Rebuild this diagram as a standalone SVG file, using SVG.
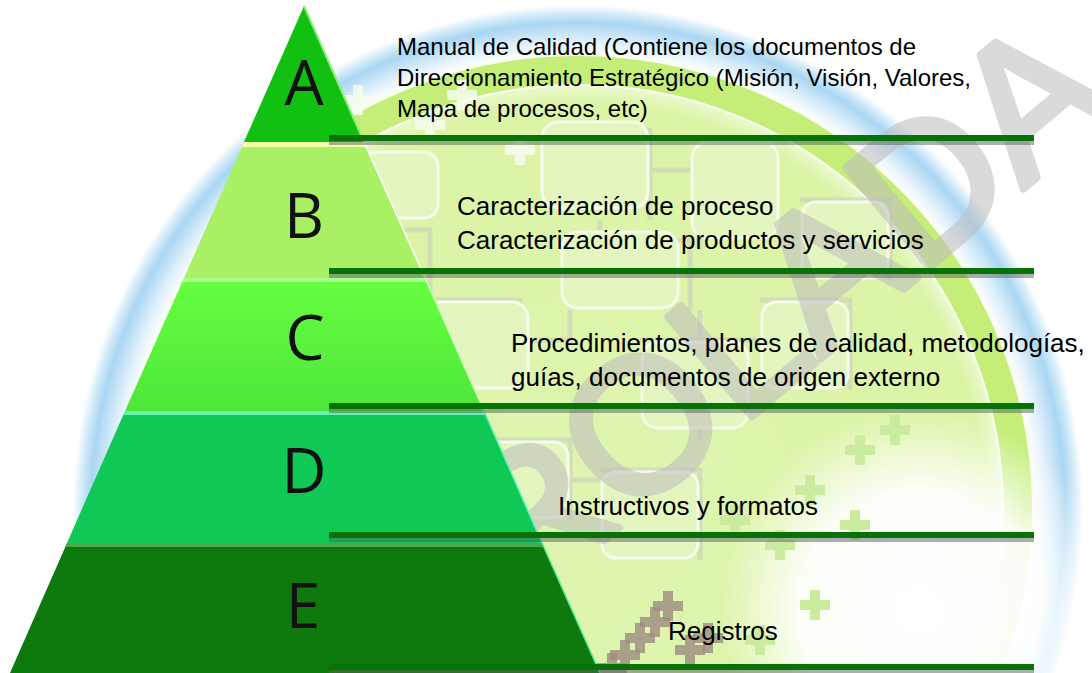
<svg xmlns="http://www.w3.org/2000/svg" width="1092" height="673" viewBox="0 0 1092 673">
<defs>
  <radialGradient id="halo" gradientUnits="userSpaceOnUse" cx="578" cy="510" r="505">
    <stop offset="0.90" stop-color="#ffffff"/>
    <stop offset="0.925" stop-color="#e4f2fb"/>
    <stop offset="0.965" stop-color="#a9d6f3"/>
    <stop offset="0.985" stop-color="#d6ecfa"/>
    <stop offset="1" stop-color="#ffffff"/>
  </radialGradient>
  <radialGradient id="inner" gradientUnits="userSpaceOnUse" cx="578" cy="510" r="424">
    <stop offset="0" stop-color="#dff5b0"/>
    <stop offset="0.96" stop-color="#dbf4a6"/>
    <stop offset="1" stop-color="#eaf9cd"/>
  </radialGradient>
  <radialGradient id="whitepatch" gradientUnits="userSpaceOnUse" cx="920" cy="610" r="200">
    <stop offset="0" stop-color="#ffffff" stop-opacity="1"/>
    <stop offset="0.6" stop-color="#ffffff" stop-opacity="0.92"/>
    <stop offset="1" stop-color="#ffffff" stop-opacity="0"/>
  </radialGradient>
  <linearGradient id="gC" x1="0" y1="278" x2="0" y2="411" gradientUnits="userSpaceOnUse">
    <stop offset="0" stop-color="#66ff40"/>
    <stop offset="1" stop-color="#4ee63a"/>
  </linearGradient>
  <path id="cross" d="M-15 -5 h10 v-10 h10 v10 h10 v10 h-10 v10 h-10 v-10 h-10z"/>
  <style>
    .lbl{font-family:"Liberation Sans",Arial,sans-serif;fill:#000;}
    .big{font-size:26px;}
    .sm{font-size:24px;}
    .let{font-family:"Open Sans","Noto Sans",sans-serif;font-size:62px;fill:#111;text-anchor:middle;}
    .bar{fill:#057305;}
    .shd{fill:#5e5e5e;opacity:0.5;}
    .cir{fill:none;stroke:#c9cfc0;stroke-width:5;opacity:0.6;stroke-linejoin:round;}
    .blk{fill:#e3f6bf;stroke:#f6fdea;stroke-width:3;}
    .crs{fill:#f7fcee;opacity:0.85;}
    .gcr{fill:#cbeb9e;}
    .tcr{fill:#9d8b82;opacity:0.8;}
    .wm{font-family:"Liberation Sans",Arial,sans-serif;font-size:190px;fill:#bdbdbd;stroke:#bdbdbd;stroke-width:7;stroke-linejoin:round;}
  </style>
</defs>

<!-- background logo -->
<g id="background">
  <rect width="1092" height="673" fill="#ffffff"/>
  <circle cx="578" cy="510" r="505" fill="url(#halo)"/>
  <circle cx="578" cy="510" r="458" fill="#fafdf2"/>
  <circle cx="578" cy="510" r="440" fill="none" stroke="#c4ee78" stroke-width="28"/>
  <circle cx="578" cy="510" r="424" fill="url(#inner)"/>
  <g id="circuit">
    <path class="cir" d="M380 150 V230 H430 V300 M430 300 H520 V390 M560 130 H650 V220 M650 170 H700 V250 M600 220 V240 H690 V310 M530 340 H570 V310 M700 310 V440 M640 340 H760 M760 300 H850 V390 M480 440 H570 V520 M600 470 H700 V560 M800 200 H890 V280 M570 480 H600"/>
    <rect class="blk" x="362" y="152" width="76" height="66" rx="14"/>
    <rect class="blk" x="542" y="122" width="106" height="86" rx="16"/>
    <rect class="blk" x="692" y="142" width="86" height="96" rx="16"/>
    <rect class="blk" x="422" y="302" width="106" height="86" rx="16"/>
    <rect class="blk" x="562" y="232" width="116" height="76" rx="16"/>
    <rect class="blk" x="642" y="342" width="106" height="86" rx="16"/>
    <rect class="blk" x="482" y="442" width="86" height="76" rx="14"/>
    <rect class="blk" x="762" y="302" width="86" height="86" rx="14"/>
    <rect class="blk" x="602" y="472" width="96" height="86" rx="14"/>
    <rect class="blk" x="802" y="202" width="86" height="76" rx="14"/>
    <use href="#cross" class="crs" x="358" y="100"/>
    <use href="#cross" class="crs" x="430" y="125"/>
    <use href="#cross" class="crs" x="462" y="95"/>
    <use href="#cross" class="crs" x="520" y="150"/>
  </g>
  <circle cx="920" cy="610" r="200" fill="url(#whitepatch)"/>
  <g id="greencrosses">
    <use href="#cross" class="gcr" x="810" y="490"/>
    <use href="#cross" class="gcr" x="780" y="545"/>
    <use href="#cross" class="gcr" x="815" y="605"/>
    <use href="#cross" class="gcr" x="735" y="520"/>
    <use href="#cross" class="gcr" x="855" y="525"/>
    <use href="#cross" class="gcr" x="895" y="430"/>
    <use href="#cross" class="gcr" x="860" y="450"/>
    <use href="#cross" class="gcr" x="760" y="640"/>
  </g>
  <g id="tree">
    <use href="#cross" class="tcr" x="625" y="655"/>
    <use href="#cross" class="tcr" x="640" y="638"/>
    <use href="#cross" class="tcr" x="655" y="622"/>
    <use href="#cross" class="tcr" x="668" y="606"/>
    <use href="#cross" class="tcr" x="690" y="650"/>
    <use href="#cross" class="tcr" x="708" y="638"/>
    <use href="#cross" class="tcr" x="612" y="668"/>
  </g>
</g>

<!-- watermark -->
<g id="watermark" opacity="0.55">
  <text class="wm" x="1120" y="108" text-anchor="end" transform="rotate(-40 1120 108)">CONTROLADA</text>
</g>

<!-- pyramid -->
<g id="tier-A">
  <polygon points="304,6 364,142 244,142" fill="#12c012"/>
  <line x1="304" y1="6" x2="364" y2="142" stroke="#86f07a" stroke-width="2"/>
  <text class="let" x="304" y="105">A</text>
</g>
<g id="tier-B">
  <polygon points="244,142 364,142 425,278 184,278" fill="#aaf064"/>
  <polygon points="244,142 364,142 366,147 242,147" fill="#f2ffaa"/>
  <line x1="364" y1="142" x2="425" y2="278" stroke="#ffffff" stroke-width="1.5"/>
  <text class="let" x="304" y="238">B</text>
</g>
<g id="tier-C">
  <polygon points="184,278 425,278 484,411 125,411" fill="url(#gC)"/>
  <polygon points="184,278 425,278 427,282 182,282" fill="#a6ff90"/>
  <line x1="425" y1="278" x2="484" y2="411" stroke="#c8ffb8" stroke-width="1.5"/>
  <text class="let" x="305" y="360">C</text>
</g>
<g id="tier-D">
  <polygon points="125,411 484,411 542,543 67,543" fill="#10c856"/>
  <polygon points="125,411 484,411 486,415 123,415" fill="#66f2a8"/>
  <line x1="484" y1="411" x2="542" y2="543" stroke="#5cf5c0" stroke-width="1.5"/>
  <text class="let" x="304" y="493">D</text>
</g>
<g id="tier-E">
  <polygon points="67,543 542,543 600,673 10,673" fill="#0e7a0e"/>
  <polygon points="67,543 542,543 544,547 65,547" fill="#4ca84c"/>
  <line x1="542" y1="543" x2="600" y2="673" stroke="#4af09a" stroke-width="1.5"/>
  <text class="let" x="303" y="628">E</text>
</g>

<!-- connectors: horizontal bars -->
<g id="connectors">
  <rect class="shd" x="329" y="141" width="705" height="4"/>
  <rect class="bar" x="329" y="135" width="705" height="6"/>
  <rect class="shd" x="329" y="274" width="705" height="4"/>
  <rect class="bar" x="329" y="268" width="705" height="6"/>
  <rect class="shd" x="329" y="409" width="705" height="4"/>
  <rect class="bar" x="329" y="403" width="705" height="6"/>
  <rect class="shd" x="329" y="538" width="705" height="4"/>
  <rect class="bar" x="329" y="532" width="705" height="6"/>
  <rect class="shd" x="329" y="670" width="705" height="3"/>
  <rect class="bar" x="329" y="664" width="705" height="6"/>
</g>

<!-- labels -->
<g id="label-A">
  <text class="lbl sm" x="397" y="55">Manual de Calidad (Contiene los documentos de</text>
  <text class="lbl sm" x="397" y="86">Direccionamiento Estratégico (Misión, Visión, Valores,</text>
  <text class="lbl sm" x="397" y="117">Mapa de procesos, etc)</text>
</g>
<g id="label-B">
  <text class="lbl big" x="457" y="215">Caracterización de proceso</text>
  <text class="lbl big" x="457" y="249">Caracterización de productos y servicios</text>
</g>
<g id="label-C">
  <text class="lbl big" x="511" y="352">Procedimientos, planes de calidad, metodologías,</text>
  <text class="lbl big" x="511" y="386">guías, documentos de origen externo</text>
</g>
<g id="label-D">
  <text class="lbl big" x="558" y="515">Instructivos y formatos</text>
</g>
<g id="label-E">
  <text class="lbl big" x="668" y="640">Registros</text>
</g>
</svg>
